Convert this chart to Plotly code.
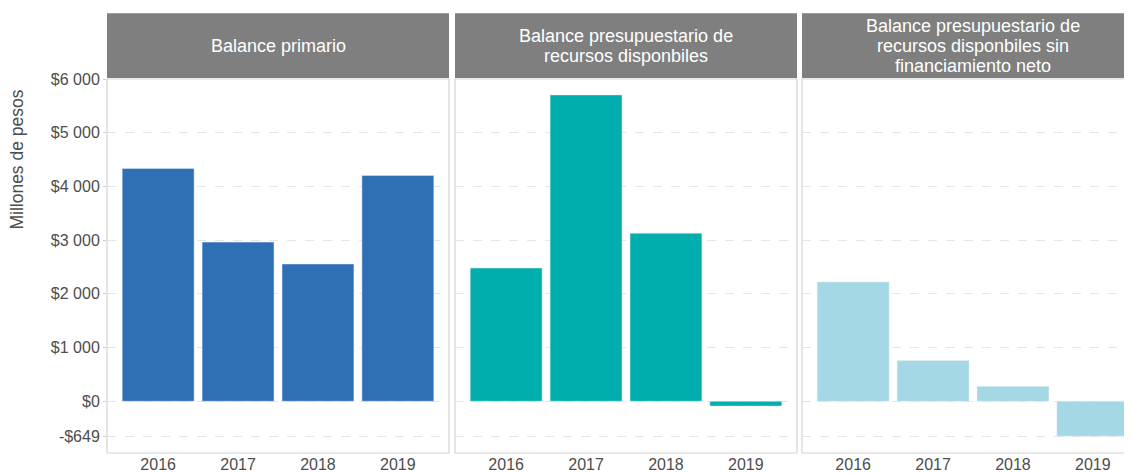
import plotly.graph_objects as go

years = ["2016", "2017", "2018", "2019"]
balance_primario = [4333, 2963, 2556, 4204]
balance_disponibles = [2481, 5704, 3130, -90]
balance_sin_financiamiento = [2222, 759, 278, -649]

panel_titles = [
    ["Balance primario"],
    ["Balance presupuestario de", "recursos disponbiles"],
    ["Balance presupuestario de", "recursos disponbiles sin", "financiamiento neto"],
]
colors = ["#2f6fb6", "#00afad", "#a4d8e5"]

tick_vals = [6000, 5000, 4000, 3000, 2000, 1000, 0, -649]
tick_text = ["$6 000", "$5 000", "$4 000", "$3 000", "$2 000", "$1 000", "$0", "-$649"]

# the page body adds an 8px margin, so the figure is laid out 8px up/left
OFF = 8
W, H = 1132 - OFF, 473 - OFF
ML, MR, MT, MB = 107 - OFF, 0, 79 - OFF, 18
pw = W - ML - MR
ph = H - MT - MB
panels_px = [(107, 449), (455, 797), (802, 1144)]

fig = go.Figure()
series = [balance_primario, balance_disponibles, balance_sin_financiamiento]
for i, vals in enumerate(series):
    sfx = "" if i == 0 else str(i + 1)
    fig.add_trace(go.Bar(x=years, y=vals, marker_color=colors[i], width=0.9,
                         xaxis="x" + sfx, yaxis="y" + sfx, showlegend=False,
                         hoverinfo="x+y"))

def px_x(p):
    return (p - OFF - ML) / pw

def px_y(p):
    return (H - MB - (p - OFF)) / ph

layout = dict(width=W, height=H, margin=dict(l=ML, r=MR, t=MT, b=MB),
              plot_bgcolor="white", paper_bgcolor="white",
              font=dict(family="Liberation Sans, Arial, sans-serif", color="#4d4d4d"),
              shapes=[], annotations=[])

for i, (x0, x1) in enumerate(panels_px):
    sfx = "" if i == 0 else str(i + 1)
    d0 = px_x(x0)
    d1 = min(px_x(x1), 1.0)
    right = min(x1, 1132)
    # keep category spacing equal even when the last panel is clipped
    span = 4.28 * (right - x0) / (x1 - x0)
    layout["xaxis" + sfx] = dict(domain=[d0, d1], anchor="y" + sfx,
                                 range=[-0.64, -0.64 + span], showgrid=False,
                                 tickfont=dict(size=16, color="#4d4d4d"), ticks="",
                                 fixedrange=True)
    yax = dict(anchor="x" + sfx, range=[-963, 6000], tickvals=tick_vals,
               ticktext=tick_text, showgrid=True, gridcolor="#e6e6e6",
               griddash="dash", gridwidth=1, zeroline=False,
               showticklabels=(i == 0), ticks="outside" if i == 0 else "",
               ticklen=3, tickcolor="#cccccc",
               tickfont=dict(size=16, color="#4d4d4d"))
    if i > 0:
        yax["matches"] = "y"
    layout["yaxis" + sfx] = yax
    # panel border
    layout["shapes"].append(dict(type="rect", xref="paper", yref="paper",
                                 x0=d0, x1=px_x(x1), y0=0, y1=1,
                                 line=dict(color="#d4d4d4", width=1.2),
                                 fillcolor="rgba(0,0,0,0)", layer="above"))
    # header strip
    layout["shapes"].append(dict(type="rect", xref="paper", yref="paper",
                                 x0=d0, x1=px_x(x1), y0=px_y(78), y1=px_y(13),
                                 line=dict(width=0), fillcolor="#7f7f7f"))
    lines = panel_titles[i]
    n = len(lines)
    for k, line in enumerate(lines):
        cy = 46 + (k - (n - 1) / 2) * 20
        layout["annotations"].append(dict(text=line, xref="paper", yref="paper",
                                          x=px_x((x0 + x1) / 2), y=px_y(cy),
                                          xanchor="center", yanchor="middle",
                                          showarrow=False,
                                          font=dict(size=18, color="white")))

layout["annotations"].append(dict(text="Millones de pesos", xref="paper", yref="paper",
                                  x=px_x(17), y=px_y(160), textangle=-90, showarrow=False,
                                  xanchor="center", yanchor="middle",
                                  font=dict(size=17.5, color="#4d4d4d")))

fig.update_layout(**layout)
fig.write_html("out.html")
